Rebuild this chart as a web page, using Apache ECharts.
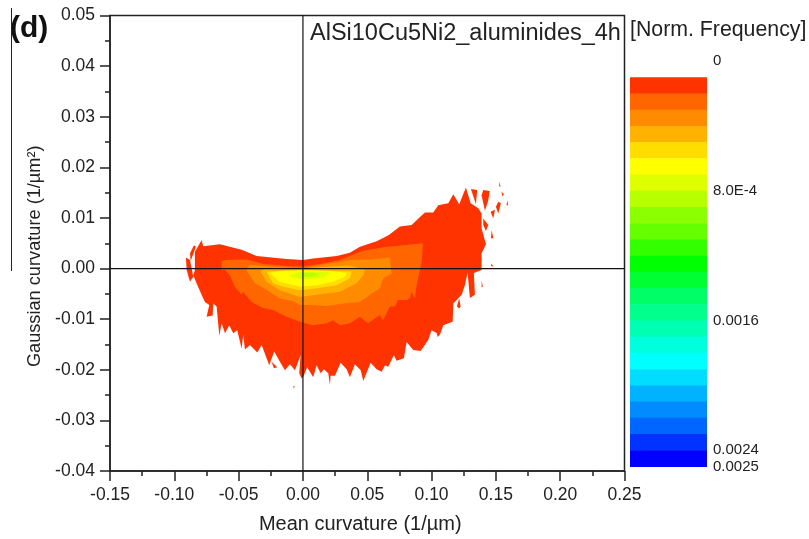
<!DOCTYPE html>
<html><head><meta charset="utf-8">
<style>html,body{margin:0;padding:0;background:#fff}#c{width:809px;height:539px}</style>
<script src="https://cdn.jsdelivr.net/npm/echarts@6/dist/echarts.min.js"></script>
</head><body><div id="c"></div>
<script>
const xRange = [-0.15, 0.25];
const yRange = [-0.04, 0.05];
const bandColors = ['#FF3300','#FF6600','#FF8C00','#FFB300','#FFDD00','#FFFF00','#DDFF00','#B8FF00','#8CFF00','#66FF00','#33FF00','#00FF00','#00FF33','#00FF66','#00FF8C','#00FFB3','#00FFDD','#00FFFF','#00DDFF','#00B3FF','#008CFF','#0066FF','#0033FF','#0000FF'];
const bandStep = 0.0001;
const legendTicks = ['0','8.0E-4','0.0016','0.0024','0.0025'];
const legendTickSteps = [0,8,16,24,25];

const contour1 = [[-.084,.0033],[-.0788,.0056],[-.0775,.0044],[-.0645,.0048],[-.0477,.0037],[-.036,.0025],[-.0127,.0019],[0,.0017],[.008,.002],[.0262,.0025],[.0365,.0031],[.0443,.0043],[.0573,.0054],[.0665,.0066],[.0754,.0083],[.0845,.0086],[.091,.0102],[.0949,.0111],[.1013,.0111],[.1052,.0125],[.113,.0129],[.1169,.0147],[.1215,.0127],[.1267,.016],[.1304,.0129],[.1363,.0119],[.1389,.0109],[.1389,.0079],[.1423,.0048],[.1389,.003],[.1389,-.0003],[.1329,-.0009],[.1337,-.0052],[.1298,-.0058],[.128,-.0008],[.1259,-.0033],[.1234,-.0052],[.1169,-.0069],[.1164,-.0105],[.1091,-.0112],[.1065,-.0131],[.1,-.0122],[.0974,-.0141],[.0915,-.0163],[.0858,-.0161],[.0806,-.0145],[.0785,-.0177],[.0728,-.0182],[.0707,-.0171],[.0663,-.0194],[.0638,-.0191],[.0612,-.0204],[.0573,-.0199],[.0526,-.0186],[.0469,-.0222],[.0449,-.0201],[.0404,-.0189],[.0365,-.0215],[.034,-.0199],[.0293,-.0186],[.0249,-.0212],[.0215,-.0212],[.021,-.023],[.0197,-.0207],[.0163,-.0199],[.0138,-.0207],[.0106,-.0191],[.008,-.0215],[.0033,-.0195],[.0003,-.0214],[-.001,-.0217],[-.0029,-.0207],[-.0018,-.0171],[-.0062,-.0201],[-.0101,-.0189],[-.014,-.0201],[-.0179,-.0184],[-.0223,-.0164],[-.0262,-.0191],[-.0321,-.0151],[-.0355,-.0166],[-.0412,-.0151],[-.0451,-.016],[-.0464,-.0131],[-.0477,-.0158],[-.0511,-.0122],[-.0542,-.0128],[-.0573,-.0112],[-.0606,-.0128],[-.0632,-.0108],[-.065,-.0133],[-.0671,-.0075],[-.0697,-.0069],[-.0702,-.0093],[-.0749,-.0095],[-.0728,-.0072],[-.0762,-.0066],[-.0788,-.0052],[-.0827,-.0029],[-.0853,-.0013],[-.084,-.0003]];
const islands1 = [
 [[-.091,.0022],[-.0878,.0017],[-.0853,-.0016],[-.0878,-.0026],[-.0904,-.0003]],
 [[-.0878,.003],[-.0847,.0046],[-.0832,.0043],[-.0873,.0015]],
 [[.1306,.0157],[.1355,.0155],[.1345,.0127]],
 [[.1389,.0145],[.1402,.0155],[.1452,.0153],[.1441,.0135],[.1415,.0114]],
 [[.1402,.0099],[.1441,.0086],[.1423,.0074],[.1402,.0086]],
 [[.1459,.0112],[.1493,.0116],[.148,.0099]],
 [[.1519,.0132],[.1539,.0129],[.1519,.0109],[.15,.0122]],
 [[.1544,.0152],[.1563,.0147],[.155,.0143]],
 [[.1589,.0135],[.1596,.0125],[.1583,.0125]],
 [[.1526,.0172],[.1537,.0162],[.1526,.0162]],
 [[.1467,.0076],[.148,.006],[.1462,.006]],
 [[.1467,.001],[.148,.0004],[.1462,.0005]],
 [[.1389,-.0023],[.1399,-.0036],[.1389,-.0037]],
 [[.1215,-.0059],[.1226,-.0075],[.1215,-.0079],[.1197,-.0075]],
 [[.1039,-.0126],[.1065,-.0131],[.1047,-.0135]],
 [[-.0244,-.0184],[-.02,-.0195],[-.0225,-.0197]],
 [[-.0075,-.0232],[-.0065,-.0232],[-.007,-.0238]]
];
const contour2 = [[-.0632,.0015],[-.0593,.0017],[-.0438,.0018],[-.0308,.0009],[-.0127,.0005],[0,.0004],[.0132,.0009],[.0288,.0017],[.0365,.0025],[.0469,.0035],[.0625,.0042],[.078,.0046],[.0933,.005],[.0923,.0013],[.0884,-.0033],[.0871,-.0059],[.0845,-.0046],[.0832,-.0058],[.0809,-.0062],[.0739,-.0062],[.0715,-.0075],[.0676,-.0075],[.0622,-.0102],[.0599,-.0092],[.0505,-.0108],[.0443,-.0095],[.0365,-.0108],[.0288,-.0112],[.0233,-.0102],[.0187,-.0108],[.0078,-.0112],[-.0023,-.0105],[-.0127,-.0095],[-.0233,-.0082],[-.0311,-.0078],[-.0399,-.0066],[-.0466,-.0046],[-.0477,-.0052],[-.0529,-.0036],[-.0568,-.0013],[-.0606,-.0003],[-.0632,-.0003]];
const contour3 = [[-.0438,-.0003],[-.0412,.0007],[-.0257,.0004],[0,0],[.021,.001],[.0365,.0017],[.0521,.0018],[.0676,.0022],[.0689,-.001],[.0625,-.0019],[.0599,-.0039],[.0521,-.0052],[.0443,-.0066],[.0314,-.0069],[.0184,-.0074],[.008,-.0072],[-.0023,-.0072],[-.0075,-.0064],[-.0179,-.0059],[-.0282,-.0042],[-.0373,-.0029],[-.0425,-.0009]];
const contour4 = [[-.033,-.0006],[-.0295,.0001],[-.0179,0],[0,0],[.0107,.0002],[.0365,.0006],[.0482,-.0003],[.0469,-.0013],[.0417,-.0029],[.0288,-.0046],[.0107,-.0052],[-.0023,-.0056],[-.0179,-.0043],[-.0282,-.0026]];
const contour5 = [[-.0282,-.0006],[0,-.0003],[.0379,-.0006],[.0365,-.0019],[.0262,-.0033],[.0107,-.0039],[-.0023,-.0043],[-.0155,-.0036],[-.0233,-.0029]];
const contour6 = [[-.0257,-.0009],[-.0179,-.0005],[0,-.0004],[.0233,-.0005],[.034,-.0009],[.0327,-.0016],[.0233,-.0026],[.0107,-.0033],[-.0023,-.0036],[-.0179,-.0026]];
const contour7 = [[-.0023,-.0006],[.021,-.0007],[.0171,-.0017],[0,-.0021],[-.0117,-.0015]];
const contour8 = [[.0005,-.001],[.0078,-.0008],[.0125,-.0011],[.0078,-.0016],[.001,-.0016]];

const polys = [];
[contour1, ...islands1].forEach(p => polys.push({p, band: 0}));
[contour2, contour3, contour4, contour5, contour6, contour7, contour8].forEach((p, i) => polys.push({p, band: i + 1}));

const font = 'Liberation Sans';
const ink = '#222';
const chart = echarts.init(document.getElementById('c'), null, {renderer: 'canvas'});
chart.setOption({
  animation: false,
  backgroundColor: '#fff',
  textStyle: {fontFamily: font},
  grid: [
    {left: 110, top: 15.5, width: 514.5, height: 455.5, show: true, borderColor: ink, borderWidth: 1.5, backgroundColor: 'transparent'},
    {left: 630, top: 61, width: 77, height: 405.5}
  ],
  xAxis: [
    {type: 'value', gridIndex: 0, min: xRange[0], max: xRange[1], interval: 0.05,
     name: 'Mean curvature (1/µm)', nameLocation: 'middle', nameGap: 43,
     nameTextStyle: {fontSize: 20, color: ink, fontFamily: font, padding: [0, 14, 0, 0]},
     axisLine: {onZero: false, lineStyle: {color: ink, width: 1.5}},
     axisTick: {show: true, length: 10, inside: false, lineStyle: {color: ink, width: 1.5}},
     minorTick: {show: true, splitNumber: 2, length: 5, lineStyle: {color: ink, width: 1.5}},
     splitLine: {show: false}, minorSplitLine: {show: false},
     axisLabel: {fontSize: 17.5, color: ink, margin: 15, fontFamily: font, formatter: v => v.toFixed(2)}},
    {type: 'value', gridIndex: 1, min: 0, max: 1, show: false}
  ],
  yAxis: [
    {type: 'value', gridIndex: 0, min: yRange[0], max: yRange[1], interval: 0.01,
     name: 'Gaussian curvature (1/µm²)', nameLocation: 'middle', nameGap: 66,
     nameTextStyle: {fontSize: 18.2, color: ink, fontFamily: font, padding: [0, 26, 0, 0]},
     axisLine: {onZero: false, lineStyle: {color: ink, width: 1.5}},
     axisTick: {show: true, length: 10, lineStyle: {color: ink, width: 1.5}},
     minorTick: {show: true, splitNumber: 2, length: 5, lineStyle: {color: ink, width: 1.5}},
     splitLine: {show: false}, minorSplitLine: {show: false},
     axisLabel: {fontSize: 17.5, color: ink, margin: 15, fontFamily: font, formatter: v => v.toFixed(2)}},
    {type: 'value', gridIndex: 1, min: 0, max: 25 * bandStep, interval: bandStep, inverse: true,
     axisLine: {show: false}, axisTick: {show: false}, splitLine: {show: false}, position: 'right',
     axisLabel: {show: true, showMinLabel: true, showMaxLabel: true, hideOverlap: false, fontSize: 15, color: ink, margin: 6, padding: [3, 0, 0, 0], fontFamily: font,
       formatter: v => {
         const i = legendTickSteps.indexOf(Math.round(v / bandStep));
         return i < 0 ? '' : legendTicks[i];
       }}}
  ],
  series: [
    {type: 'custom', coordinateSystem: 'cartesian2d', xAxisIndex: 0, yAxisIndex: 0, z: 2, silent: true,
     data: polys.map((_, i) => [i]),
     encode: {x: -1, y: -1},
     renderItem: (params, api) => {
       const poly = polys[params.dataIndex];
       return {type: 'polygon', shape: {points: poly.p.map(pt => api.coord(pt))}, style: {fill: bandColors[poly.band], stroke: null}};
     }},
    {type: 'custom', coordinateSystem: 'cartesian2d', xAxisIndex: 1, yAxisIndex: 1, z: 2, silent: true,
     data: bandColors.map((c, i) => [0, (i + 1) * bandStep, 1, (i + 2) * bandStep]),
     encode: {x: [0, 2], y: [1, 3]},
     renderItem: (params, api) => {
       const a = api.coord([api.value(0), api.value(1)]);
       const b = api.coord([api.value(2), api.value(3)]);
       return {type: 'rect', shape: {x: a[0], y: a[1], width: b[0] - a[0], height: b[1] - a[1] + 0.5}, style: {fill: bandColors[params.dataIndex]}};
     }},
    {type: 'line', xAxisIndex: 0, yAxisIndex: 0, z: 5, silent: true, showSymbol: false, data: [[0, yRange[0]], [0, yRange[1]]], lineStyle: {color: '#111', width: 1.2}},
    {type: 'line', xAxisIndex: 0, yAxisIndex: 0, z: 5, silent: true, showSymbol: false, data: [[xRange[0], 0], [xRange[1], 0]], lineStyle: {color: '#111', width: 1.2}}
  ],
  graphic: [
    {type: 'text', left: 10, top: 14, style: {text: '(d)', font: 'bold 30px "Liberation Sans"', fill: '#111'}},
    {type: 'text', left: 310, top: 22, style: {text: 'AlSi10Cu5Ni2_aluminides_4h', font: '23.5px "Liberation Sans"', fill: ink}},
    {type: 'text', left: 630, top: 20, style: {text: '[Norm. Frequency]', font: '21.3px "Liberation Sans"', fill: ink}},
    {type: 'line', shape: {x1: 11.5, y1: 8, x2: 11.5, y2: 271}, style: {stroke: '#222', lineWidth: 1}}
  ]
});
</script></body></html>
